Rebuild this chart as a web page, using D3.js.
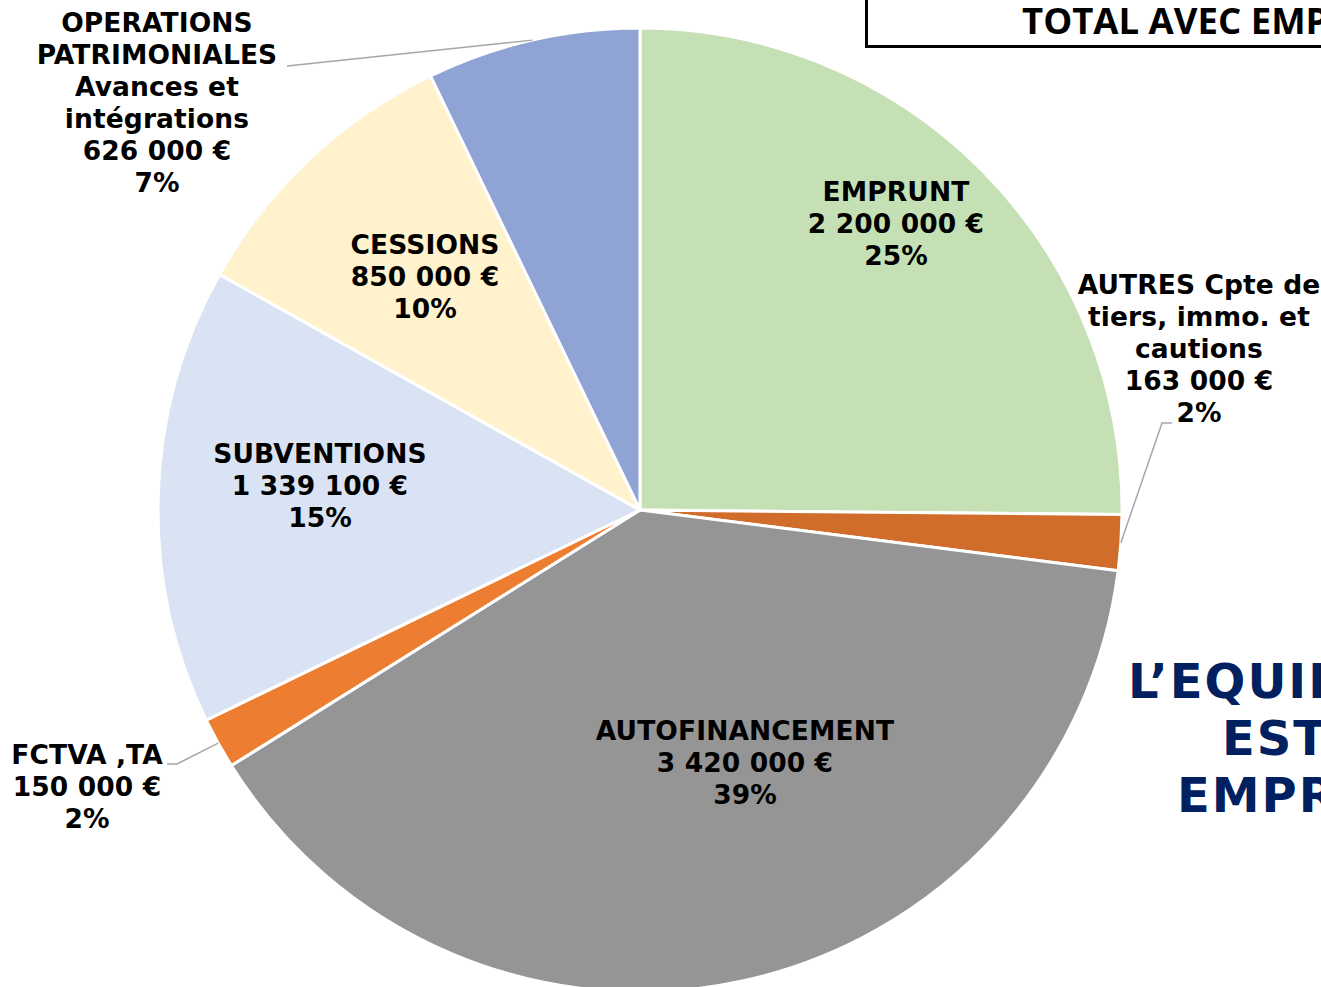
<!DOCTYPE html>
<html>
<head>
<meta charset="utf-8">
<script src="https://cdn.jsdelivr.net/npm/d3@7"></script>
<style>
  html, body { margin: 0; padding: 0; background: #fff; overflow: hidden; }
  svg { display: block; }
</style>
</head>
<body>
<div id="chart"></div>
<script>
// slices, clockwise from 12 o'clock
const categories = ["EMPRUNT", "AUTRES", "AUTOFINANCEMENT", "FCTVA", "SUBVENTIONS", "CESSIONS", "OPERATIONS"];
const labelNames = [
    ["EMPRUNT"],
    ["AUTRES Cpte de", "tiers, immo. et", "cautions"],
    ["AUTOFINANCEMENT"],
    ["FCTVA ,TA"],
    ["SUBVENTIONS"],
    ["CESSIONS"],
    ["OPERATIONS", "PATRIMONIALES", "Avances et", "intégrations"]
];
const values = [2200000, 163000, 3420000, 150000, 1339100, 850000, 626000];
const colors = ["#c5e0b4", "#d06d2b", "#959595", "#ed7d31", "#dae3f3", "#fff2cc", "#8fa3d4"];

// label layout: centre x, first baseline y, and optional leader elbow
const labelPos = [
    { x: 896, y: 201 },
    { x: 1199, y: 294, elbow: [1162, 423], end: [1172, 423] },
    { x: 745, y: 740 },
    { x: 87, y: 764, elbow: [177, 764], end: [167, 764] },
    { x: 320, y: 463 },
    { x: 425, y: 254 },
    { x: 157, y: 32, elbow: [287, 66], end: [287, 66] }
];

let width = 1321, height = 987;
let cx = 640, cy = 510, radius = 482;
let lineH = 32;

let svg = d3.select("#chart")
    .append("svg")
    .attr("width", width)
    .attr("height", height);

let total = d3.sum(values);
let locale = d3.formatLocale({ decimal: ",", thousands: "\u00a0", grouping: [3], currency: ["", " €"] });
let fmtMoney = locale.format(",d");

let pie = d3.pie().sort(null).value(d => d)(values);
let arc = d3.arc().innerRadius(0).outerRadius(radius);

let g = svg.append("g").attr("transform", "translate(" + cx + "," + cy + ")");

g.selectAll("path")
    .data(pie)
    .enter()
    .append("path")
    .attr("d", arc)
    .attr("fill", (d, i) => colors[i])
    .attr("stroke", "#fff")
    .attr("stroke-width", 3)
    .attr("stroke-linejoin", "round");

// leader lines
pie.forEach((d, i) => {
    let p = labelPos[i];
    if (!p.elbow) return;
    let a = (d.startAngle + d.endAngle) / 2;
    let sx = cx + radius * Math.sin(a), sy = cy - radius * Math.cos(a);
    svg.append("polyline")
        .attr("points", [[sx, sy], p.elbow, p.end].map(q => q.join(",")).join(" "))
        .attr("fill", "none")
        .attr("stroke", "#a6a6a6")
        .attr("stroke-width", 1.5);
});

// labels
pie.forEach((d, i) => {
    let p = labelPos[i];
    let lines = labelNames[i].concat([fmtMoney(values[i]) + " €", Math.round(values[i] / total * 100) + "%"]);
    let t = svg.append("text")
        .attr("text-anchor", "middle")
        .attr("font-family", "'DejaVu Sans', Verdana, sans-serif")
        .attr("font-weight", "bold")
        .attr("font-size", 26.5)
        .attr("letter-spacing", 0.1)
        .attr("fill", "#000");
    lines.forEach((s, j) => {
        t.append("tspan").attr("x", p.x).attr("y", p.y + j * lineH).text(s);
    });
});

// title box (clipped at right)
svg.append("rect")
    .attr("x", 866.5).attr("y", -10)
    .attr("width", 600).attr("height", 56.5)
    .attr("fill", "#fff")
    .attr("stroke", "#000")
    .attr("stroke-width", 3);
svg.append("text")
    .attr("x", 1022).attr("y", 34)
    .attr("font-family", "'Open Sans', sans-serif")
    .attr("font-weight", "bold")
    .attr("font-size", 36.5)
    .text("TOTAL AVEC EMPRUNT");

// side note (clipped at right)
let note = [["L\u2019EQUILIBRE", 1128, 698], ["EST ASSURE", 1222, 755], ["EMPRUNT", 1177, 812]];
note.forEach(n => {
    svg.append("text")
        .attr("x", n[1]).attr("y", n[2])
        .attr("font-family", "'DejaVu Sans', Verdana, sans-serif")
        .attr("font-weight", "bold")
        .attr("font-size", 48)
        .attr("letter-spacing", 2)
        .attr("fill", "#002060")
        .text(n[0]);
});
</script>
</body>
</html>
